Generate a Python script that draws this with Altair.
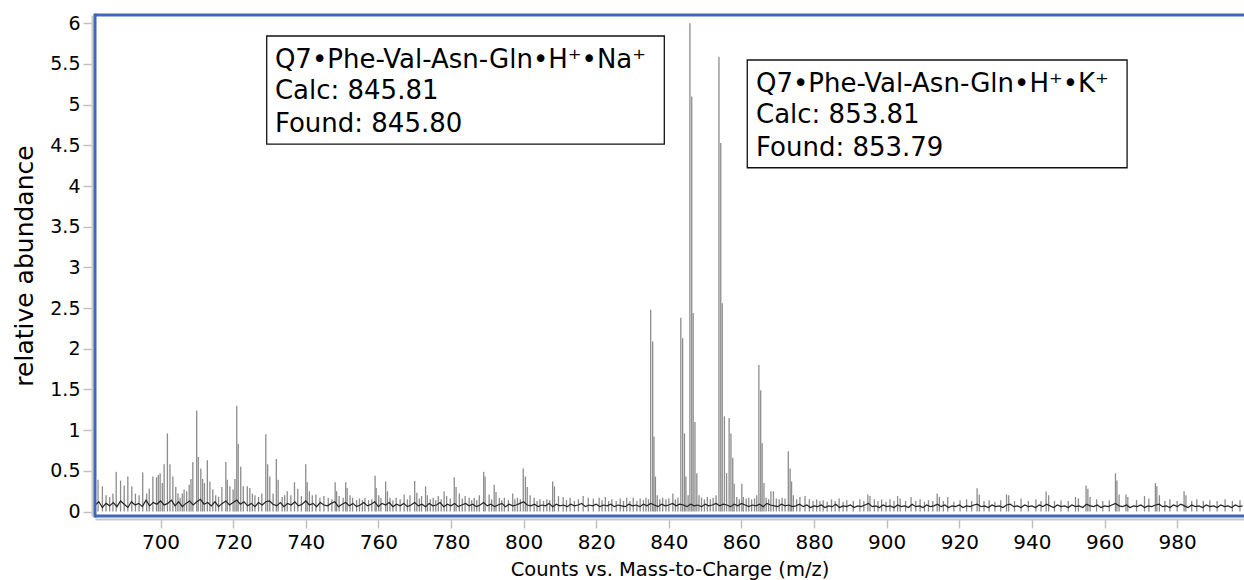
import altair as alt
import pandas as pd

FONT = "DejaVu Sans"

# ---- spectrum peaks (m/z, relative abundance) ----
peak_mz = [
    682.8, 684.0, 685.0, 686.0, 686.9, 687.8, 689.0, 690.0, 691.0, 692.1,
    693.1, 694.1, 695.1, 696.2, 696.9, 697.9, 698.9, 699.4, 699.9, 700.5,
    701.0, 701.9, 702.6, 703.4, 704.2, 704.8, 705.4, 706.0, 706.5, 707.2,
    707.9, 708.4, 708.9, 709.97, 710.4, 711.1, 711.6, 712.1, 712.9, 713.6,
    714.4, 715.2, 716.0, 716.9, 718.0, 718.4, 719.1, 720.0, 720.5, 721.0,
    721.4, 722.1, 722.8, 723.9, 724.6, 725.3, 726.0, 727.0, 727.9, 729.0,
    729.5, 730.1, 731.0, 731.9, 732.4, 733.5, 734.2, 734.9, 735.9, 736.9,
    737.8, 738.8, 740.0, 740.4, 741.0, 741.8, 742.8, 743.9, 745.0, 746.2,
    747.2, 748.1, 748.5, 749.2, 750.3, 751.0, 751.4, 752.2, 752.9, 754.0,
    754.8, 755.6, 756.3, 757.3, 758.2, 759.1, 759.4, 760.1, 760.7, 762.0,
    762.5, 763.2, 764.0, 764.9, 766.0, 767.1, 768.0, 768.7, 770.0, 770.6,
    771.3, 771.9, 773.0, 773.5, 774.3, 775.1, 775.8, 776.5, 777.3, 778.1,
    778.8, 779.8, 780.9, 781.4, 782.3, 783.1, 783.9, 785.0, 785.7, 786.4,
    787.1, 787.8, 789.0, 789.4, 790.5, 791.2, 791.9, 792.4, 793.3, 794.0,
    794.7, 795.8, 797.0, 797.6, 798.3, 799.1, 799.9, 800.5, 801.0, 801.8,
    802.9, 803.7, 804.5, 805.5, 806.4, 807.2, 808.0, 808.5, 809.6, 810.9,
    811.8, 812.8, 814.0, 815.1, 816.4, 817.8, 819.2, 820.8, 821.6, 822.5,
    823.4, 824.3, 825.5, 826.6, 827.5, 828.4, 829.3, 830.2, 831.2, 832.1,
    833.0, 833.7, 834.4, 835.0, 835.55, 835.9, 836.3, 836.8, 837.5, 838.3,
    839.2, 840.0, 841.1, 841.8, 842.5, 843.3, 843.8, 844.3, 844.7, 845.3,
    845.8, 846.3, 846.7, 847.2, 847.7, 848.3, 849.0, 849.8, 850.6, 851.4,
    852.2, 853.0, 853.8, 854.3, 854.7, 855.3, 855.9, 856.6, 857.1, 857.6,
    858.0, 858.7, 859.4, 860.1, 860.5, 861.3, 862.0, 862.8, 863.6, 864.2,
    864.8, 865.3, 865.7, 866.2, 866.8, 867.5, 868.1, 868.8, 869.6, 870.4,
    871.2, 872.0, 872.9, 873.4, 873.8, 874.3, 875.2, 876.1, 877.5, 878.7,
    879.7, 880.7, 881.6, 882.5, 883.6, 884.8, 885.8, 886.9, 888.0, 889.0,
    890.8, 892.6, 893.7, 894.8, 895.4, 896.6, 897.6, 898.6, 899.8, 900.9,
    902.0, 903.0, 903.7, 905.2, 906.7, 908.0, 909.2, 910.4, 911.5, 912.7,
    913.9, 914.5, 915.6, 916.8, 918.5, 920.2, 922.0, 923.4, 924.9, 925.5,
    926.8, 928.2, 929.8, 931.4, 933.0, 933.6, 935.2, 937.0, 939.0, 941.1,
    942.5, 943.9, 944.6, 946.2, 948.0, 950.0, 952.0, 952.8, 954.9, 955.4,
    956.0, 957.8, 959.5, 961.3, 963.0, 963.4, 964.0, 965.9, 966.4, 968.8,
    971.0, 972.2, 974.0, 974.4, 975.1, 976.6, 978.0, 980.0, 981.9, 982.4,
    984.0, 985.4, 987.2, 989.0, 991.0, 993.2, 995.2, 997.3,
]
peak_height = [
    .39, .31, .20, .18, .22, .49, .38, .32, .43, .31,
    .22, .20, .48, .22, .28, .43, .42, .45, .47, .35,
    .58, .96, .58, .43, .30, .22, .17, .22, .27, .25,
    .33, .40, .61, 1.24, .67, .53, .40, .35, .63, .37,
    .27, .20, .18, .30, .61, .39, .31, .27, .40, 1.30,
    .83, .55, .31, .31, .29, .22, .20, .18, .22, .95,
    .58, .43, .22, .645, .39, .18, .20, .25, .20, .36,
    .28, .19, .58, .36, .25, .20, .21, .17, .19, .17,
    .15, .36, .25, .19, .17, .36, .29, .20, .17, .14,
    .16, .14, .17, .14, .15, .44, .29, .20, .17, .37,
    .25, .17, .14, .17, .15, .21, .15, .20, .375, .23,
    .16, .19, .31, .20, .15, .17, .14, .19, .15, .25,
    .19, .16, .42, .30, .22, .16, .19, .17, .14, .17,
    .14, .20, .49, .43, .21, .15, .33, .24, .17, .14,
    .17, .14, .22, .15, .17, .15, .53, .43, .30, .20,
    .17, .13, .15, .13, .15, .14, .37, .31, .19, .18,
    .14, .17, .13, .15, .19, .17, .16, .17, .14, .18,
    .13, .15, .13, .16, .13, .17, .13, .17, .13, .16,
    .14, .17, .15, 2.48, 2.09, .92, .43, .20, .15, .17,
    .15, .16, .22, .15, .17, 2.38, 2.13, .96, .43, .20,
    6.00, 5.10, 2.44, 1.10, .47, .20, .17, .15, .18, .15,
    .17, .20, 5.59, 4.53, 2.56, 1.17, .47, 1.15, .96, .66,
    .34, .18, .15, .34, .18, .16, .17, .15, .16, .20,
    1.80, 1.49, .84, .35, .17, .15, .25, .25, .16, .15,
    .17, .16, .74, .53, .37, .20, .15, .18, .19, .15,
    .13, .15, .13, .14, .12, .15, .13, .16, .12, .14,
    .13, .15, .13, .21, .19, .15, .13, .15, .12, .15,
    .13, .19, .16, .13, .18, .13, .15, .12, .14, .13,
    .22, .18, .13, .18, .12, .14, .15, .13, .285, .21,
    .13, .14, .12, .14, .21, .20, .13, .16, .13, .15,
    .13, .245, .20, .13, .14, .13, .18, .16, .32, .28,
    .18, .15, .13, .14, .47, .38, .21, .21, .18, .14,
    .19, .16, .35, .31, .20, .13, .15, .13, .25, .20,
    .13, .15, .13, .14, .13, .15, .13, .14,
]

# ---- baseline noise, one reading per 1 m/z starting at 682 ----
baseline_start = 682
baseline_values = [
    .08, .12, .05, .10, .07, .11, .06, .13, .09, .05, .12, .08, .10, .06, .14, .07, .11, .09, .13, .08,
    .10, .14, .07, .12, .06, .10, .13, .08, .12, .15, .09, .11, .07, .12, .06, .10, .13, .08, .11, .14,
    .09, .12, .07, .10, .06, .11, .08, .12, .13, .09, .07, .11, .06, .10, .08, .12, .07, .09, .13, .08,
    .10, .06, .11, .08, .07, .10, .12, .06, .09, .11, .07, .10, .06, .08, .11, .07, .09, .12, .06, .10,
    .08, .11, .06, .09, .07, .10, .06, .08, .11, .07, .09, .06, .10, .07, .08, .11, .06, .09, .07, .10,
    .06, .08, .10, .07, .09, .06, .08, .11, .07, .09, .06, .08, .10, .06, .09, .07, .08, .10, .12, .08,
    .07, .09, .06, .08, .07, .10, .06, .09, .07, .08, .06, .09, .07, .08, .10, .06, .08, .07, .09, .06,
    .08, .07, .09, .06, .08, .07, .06, .09, .07, .08, .06, .09, .07, .10, .08, .06, .09, .07, .08, .10,
    .07, .09, .08, .06, .09, .07, .08, .06, .09, .07, .08, .10, .07, .09, .08, .06, .09, .07, .10, .08,
    .06, .08, .07, .09, .06, .10, .08, .07, .06, .09, .07, .08, .06, .07, .09, .06, .08, .05, .07, .06,
    .08, .05, .07, .06, .09, .05, .07, .06, .08, .05, .07, .06, .08, .10, .06, .07, .05, .08, .06, .07,
    .05, .08, .06, .07, .05, .09, .06, .07, .05, .08, .06, .07, .09, .06, .08, .05, .07, .06, .08, .05,
    .07, .06, .08, .09, .06, .07, .05, .08, .06, .07, .05, .08, .09, .06, .07, .05, .08, .06, .07, .05,
    .08, .06, .09, .07, .05, .08, .06, .07, .05, .08, .06, .07, .05, .09, .07, .06, .08, .05, .07, .06,
    .08, .10, .07, .06, .08, .05, .07, .06, .08, .05, .07, .06, .08, .09, .06, .07, .05, .08, .06, .09,
    .07, .05, .08, .06, .07, .05, .08, .06, .07, .05, .08, .06, .07, .05, .08, .06, .07,
]

x_ticks = [700, 720, 740, 760, 780, 800, 820, 840, 860, 880, 900, 920, 940, 960, 980]
y_ticks = [0, 0.5, 1, 1.5, 2, 2.5, 3, 3.5, 4, 4.5, 5, 5.5, 6]
x_domain = [681.96, 998.4]
y_domain = [-0.055, 6.102]

# ---- annotation boxes (data units) ----
box_left = [729.25, 861.6]
box_right = [838.75, 966.2]
box_top = [5.844, 5.549]
box_bottom = [4.516, 4.225]
note_lines = [
    "Q7•Phe-Val-Asn-Gln•H⁺•Na⁺", "Calc: 845.81", "Found: 845.80",
    "Q7•Phe-Val-Asn-Gln•H⁺•K⁺", "Calc: 853.81", "Found: 853.79",
]
note_x = [731.5, 731.5, 731.5, 864.0, 864.0, 864.0]
note_y = [5.454, 5.066, 4.668, 5.159, 4.771, 4.373]

PLOT_W, PLOT_H = 1149, 501
FRAME_BLUE = "#3b69b5"

peaks = pd.DataFrame({"mz": peak_mz, "h": peak_height})
base = pd.DataFrame({
    "mz": [baseline_start + i for i in range(len(baseline_values))],
    "h": baseline_values,
})
boxes = pd.DataFrame({"x": box_left, "x2": box_right, "y": box_top, "y2": box_bottom})
notes = pd.DataFrame({"x": note_x, "y": note_y, "t": note_lines})

xs = alt.Scale(domain=x_domain, nice=False, zero=False)
ys = alt.Scale(domain=y_domain, nice=False, zero=False)

x_axis = alt.Axis(
    values=x_ticks, title="Counts vs. Mass-to-Charge (m/z)", grid=False,
    labelFont=FONT, labelFontSize=20, labelColor="#000", labelBaseline="alphabetic",
    labelPadding=20, tickSize=9, tickColor="#c0c0c0", tickWidth=1.5,
    domainColor="#c8c8c8", domainWidth=2, offset=3,
    titleFont=FONT, titleFontSize=19.5, titleFontWeight="normal", titleColor="#000",
    titleBaseline="alphabetic", titleY=56,
)
y_axis = alt.Axis(
    values=y_ticks, format="~g", title="relative abundance", grid=False,
    labelFont=FONT, labelFontSize=19, labelColor="#000", labelPadding=3,
    tickSize=9, tickColor="#c0c0c0", tickWidth=1.5,
    domainColor="#c8c8c8", domainWidth=2, offset=3,
    titleFont=FONT, titleFontSize=25, titleFontWeight="normal", titleColor="#000",
    titleBaseline="alphabetic", titleX=-60, titleY=250.5, titleAngle=270,
)

sticks = alt.Chart(peaks).mark_rule(color="#8c8c8c", strokeWidth=1.3, clip=True).encode(
    x=alt.X("mz:Q", scale=xs, axis=x_axis),
    y=alt.Y("h:Q", scale=ys, axis=y_axis),
    y2=alt.datum(0),
)

baseline = alt.Chart(base).mark_line(color="#222222", strokeWidth=1.2, clip=True).encode(
    x=alt.X("mz:Q", scale=xs),
    y=alt.Y("h:Q", scale=ys),
)

rects = alt.Chart(boxes).mark_rect(fill="white", stroke="#111", strokeWidth=1.3).encode(
    x=alt.X("x:Q", scale=xs), x2="x2:Q",
    y=alt.Y("y:Q", scale=ys), y2="y2:Q",
)

texts = alt.Chart(notes).mark_text(
    align="left", baseline="alphabetic", font=FONT, fontSize=26, color="#000"
).encode(
    x=alt.X("x:Q", scale=xs),
    y=alt.Y("y:Q", scale=ys),
    text="t:N",
)

# plot frame: top, left and bottom edges only (the right edge runs off the page)
frame_src = pd.DataFrame({"k": [0]})
frame_top = alt.Chart(frame_src).mark_rule(color=FRAME_BLUE, strokeWidth=3).encode(
    x=alt.value(0), x2=alt.value(PLOT_W + 4), y=alt.value(0))
frame_left = alt.Chart(frame_src).mark_rule(color=FRAME_BLUE, strokeWidth=3).encode(
    x=alt.value(0), y=alt.value(-1.5), y2=alt.value(PLOT_H + 1.5))
frame_bottom = alt.Chart(frame_src).mark_rule(color=FRAME_BLUE, strokeWidth=3).encode(
    x=alt.value(0), x2=alt.value(PLOT_W + 4), y=alt.value(PLOT_H))

chart = alt.layer(
    sticks, baseline, rects, texts, frame_top, frame_left, frame_bottom
).properties(
    width=PLOT_W, height=PLOT_H,
    autosize=alt.AutoSizeParams(type="none"),
    padding={"left": 95, "top": 15, "right": 0, "bottom": 64},
    background="white",
).configure_view(stroke=None)

chart.save("out.html", embed_options={"renderer": "svg", "actions": False})
